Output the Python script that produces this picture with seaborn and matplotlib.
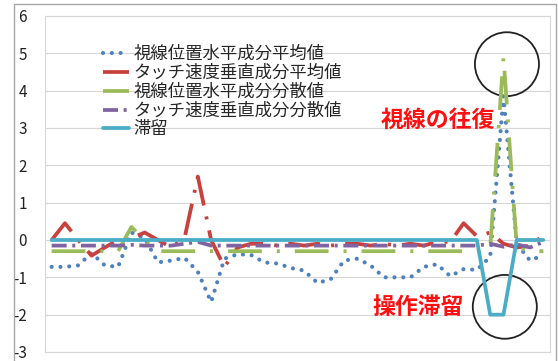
import numpy as np
import pandas as pd
import matplotlib
matplotlib.use('Agg')
import matplotlib.pyplot as plt
from matplotlib.patches import Ellipse, Rectangle
import seaborn as sns

# data (38 samples)
idx = list(range(38))
gaze_mean = [-0.72, -0.72, -0.68, -0.35, -0.68, -0.72, 0.20, 0.05, -0.60, -0.55,
             -0.48, -0.85, -1.66, -0.50, -0.38, -0.40, -0.60, -0.63, -0.75, -0.82,
             -1.15, -1.05, -0.55, -0.50, -0.68, -1.00, -1.00, -1.00, -0.72, -0.65,
             -0.97, -0.78, -0.80, -0.45, 3.85, -0.10, -0.55, -0.40]
touch_mean = [0.00, 0.45, 0.00, -0.42, -0.20, 0.00, 0.05, 0.20, 0.00, -0.20,
              0.05, 1.70, 0.00, -0.72, -0.20, -0.10, -0.10, -0.15, -0.10, -0.15,
              -0.10, -0.15, -0.10, -0.10, -0.15, -0.10, -0.15, -0.10, -0.15, -0.05,
              -0.05, 0.45, 0.10, 0.20, -0.10, -0.20, -0.15, 0.12]
gaze_var = [-0.30, -0.30, -0.30, -0.30, -0.30, -0.30, 0.35, 0.00, -0.30, -0.30,
            -0.30, -0.30, -0.30, -0.30, -0.30, -0.30, -0.30, -0.30, -0.30, -0.30,
            -0.30, -0.30, -0.30, -0.30, -0.30, -0.30, -0.30, -0.30, -0.30, -0.30,
            -0.30, -0.30, -0.30, -0.20, 4.90, -0.20, -0.30, -0.30]
touch_var = [-0.15, -0.15, -0.15, -0.15, -0.15, -0.15, -0.13, -0.15, -0.15, -0.15,
             -0.10, -0.05, -0.15, -0.15, -0.15, -0.15, -0.15, -0.15, -0.15, -0.15,
             -0.15, -0.15, -0.15, -0.15, -0.15, -0.15, -0.15, -0.15, -0.15, -0.15,
             -0.15, -0.15, -0.15, -0.10, -0.18, -0.12, -0.20, -0.05]
stay = [0, 0, 0, 0, 0, 0, 0, 0, 0, 0,
        0, 0, 0, 0, 0, 0, 0, 0, 0, 0,
        0, 0, 0, 0, 0, 0, 0, 0, 0, 0,
        0, 0, 0, -2, -2, 0, 0, 0]

labels = ['視線位置水平成分平均値', 'タッチ速度垂直成分平均値',
          '視線位置水平成分分散値', 'タッチ速度垂直成分分散値', '滞留']
yticks = list(range(-3, 7))

sns.set_style('white')
plt.rcParams['font.family'] = ['Noto Sans CJK JP', 'DejaVu Sans']

fig = plt.figure(figsize=(5.58, 3.61), dpi=100)
ax = fig.add_axes([45 / 558, 9 / 361, 505 / 558, 336 / 361])

styles = [
    dict(color='#4F81BD', linewidth=3.0, linestyle=(0, (0.01, 2.1)), dash_capstyle='round'),
    dict(color='#C8413D', linewidth=2.7, linestyle=(0, (8.5, 3, 0.8, 3))),
    dict(color='#9BBB59', linewidth=2.7, linestyle=(0, (9, 4, 0.8, 4))),
    dict(color='#8064A2', linewidth=2.7, linestyle=(0, (4, 1.5, 0.8, 1.5))),
    dict(color='#4BACC6', linewidth=2.7, linestyle='-'),
]
series = [gaze_mean, touch_mean, gaze_var, touch_var, stay]
for vals, lab, st in zip(series, labels, styles):
    sns.lineplot(x=idx, y=vals, ax=ax, label=lab, **st)

ax.set_xlim(-0.5, len(idx) - 0.5)
ax.set_ylim(-3, 6)
ax.set_xticks([])
ax.set_yticks(yticks)
ax.set_yticklabels([str(t) for t in yticks], fontsize=11, color='#222222')
ax.tick_params(axis='y', length=0, pad=13)
ax.set_xlabel('')
ax.set_ylabel('')
ax.grid(axis='y', color='#D6D6D6', linewidth=0.8)
for sp in ax.spines.values():
    sp.set_color('#D6D6D6')
    sp.set_linewidth(0.8)

leg = ax.legend(loc='upper left', bbox_to_anchor=(103 / 558, 1 - 45 / 361),
                bbox_transform=fig.transFigure, frameon=False, fontsize=12.5,
                handlelength=1.5, handletextpad=0.25, labelspacing=0.05,
                borderpad=0, borderaxespad=0)

# annotations
ax.add_patch(Ellipse((34.26, 4.71), 4.82, 1.71, fill=False, edgecolor='#222222', linewidth=1.3))
ax.add_patch(Ellipse((34.1, -1.79), 4.82, 1.71, fill=False, edgecolor='#222222', linewidth=1.3))
ax.text(29.07, 3.21, '視線の往復', color='#FF1010', fontsize=16.5, fontweight='bold',
        ha='center', va='center')
ax.text(27.57, -1.82, '操作滞留', color='#FF1010', fontsize=16.5, fontweight='bold',
        ha='center', va='center')

# outer chart border
fig.patches.append(Rectangle((14 / 558, -0.01), 542 / 558, 357 / 361 + 0.01,
                             transform=fig.transFigure, fill=False,
                             edgecolor='#A6A6A6', linewidth=1))

fig.savefig('out.png', dpi=100)
